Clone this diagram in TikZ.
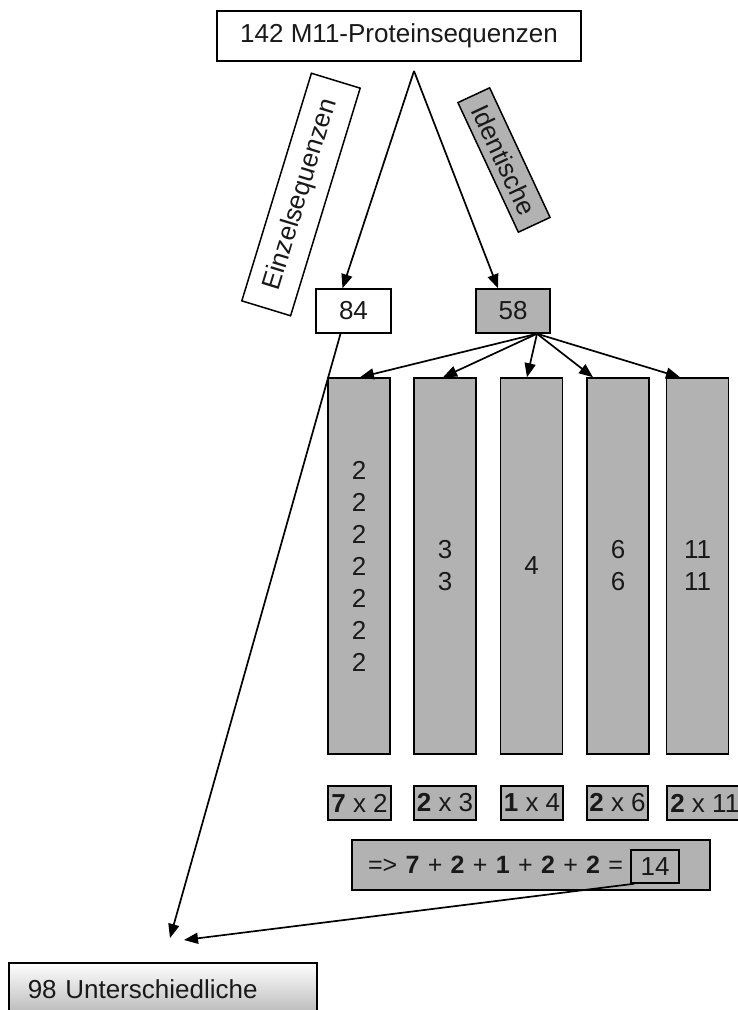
\documentclass[tikz,border=0pt]{standalone}
\usepackage{fontspec}
\setmainfont{Liberation Sans}
\usetikzlibrary{arrows.meta,calc}
\begin{document}
\begin{tikzpicture}[x=1pt,y=-1pt,
 box/.style={draw=black,line width=1.5pt,inner sep=0pt,font=\fontsize{26}{32}\selectfont,text=black!90},
 gbox/.style={box,fill=gray!60},
 col/.style={gbox,minimum width=62pt,minimum height=376pt,align=center},
 sbox/.style={gbox,minimum height=34pt},
 arr/.style={line width=1.7pt,-{Triangle[length=14pt,width=11pt]}}]
\useasboundingbox (0,0) rectangle (737,1010);
\fill[white] (0,0) rectangle (737,1010);
% top
\node[box,minimum width=364pt,minimum height=50pt] (top) at (399,36) {142 M11-Proteinsequenzen};
\coordinate (apex) at (414,71);
% rotated labels
\node[box,rotate=73,minimum width=238pt,minimum height=51pt,fill=white] (einz) at (301,194.5) {Einzelsequenzen};
\node[gbox,rotate=-65,minimum width=143pt,minimum height=35pt] (ident) at (504,160) {Identische};
% second row
\node[box,minimum width=75pt,minimum height=44pt] (n84) at (353.5,311) {84};
\node[gbox,minimum width=74pt,minimum height=44pt] (n58) at (513,311) {58};
\draw[arr] (apex) -- ([xshift=-11pt]n84.north);
\draw[arr] (apex) -- ([xshift=-15pt]n58.north);
% columns
\node[col] (c1) at (359,566) {2\\2\\2\\2\\2\\2\\2};
\node[col] (c2) at (445,566) {3\\3};
\node[col] (c3) at (531.5,566) {4};
\node[col] (c4) at (618,566) {6\\6};
\node[col] (c5) at (697.5,566) {11\\11};
\draw[arr] ([xshift=24pt]n58.south) -- ([xshift=1pt]c1.north);
\draw[arr] ([xshift=24pt]n58.south) -- ([xshift=-2pt]c2.north);
\draw[arr] ([xshift=24pt]n58.south) -- ([xshift=-4.5pt]c3.north);
\draw[arr] ([xshift=24pt]n58.south) -- ([xshift=-25pt]c4.north);
\draw[arr] ([xshift=24pt]n58.south) -- ([xshift=-17.5pt]c5.north);
% small boxes
\node[sbox,minimum width=63pt] (s1) at (359.5,803) {\textbf{7} x 2};
\node[sbox,minimum width=62pt] (s2) at (445,803) {\textbf{2} x 3};
\node[sbox,minimum width=62pt] (s3) at (532,803) {\textbf{1} x 4};
\node[sbox,minimum width=61pt] (s4) at (617.5,803) {\textbf{2} x 6};
\node[sbox,minimum width=76pt,anchor=west] (s5) at (666,803) {\textbf{2} x 11};
% formula
\node[gbox,minimum width=358pt,minimum height=50pt,align=left,text width=326pt,
  font=\fontsize{25}{30}\selectfont] (f) at (531,865)
  {=> \textbf{7} + \textbf{2} + \textbf{1} + \textbf{2} + \textbf{2} =};
\node[sbox,minimum width=48pt,minimum height=33pt] (n14) at (655,866.5) {14};
% bottom
\node[box,anchor=north west,minimum height=52pt,text width=270pt,inner xsep=19pt,align=left,
  top color=white,bottom color=gray!55] (n98) at (8,962) {98 Unterschiedliche};
\coordinate (e84) at (170,938);
\coordinate (e14) at (184,940);
\draw[arr] ([xshift=-13pt]n84.south) -- (e84);
\draw[arr] ([xshift=4pt]n14.south west) -- (e14);
\end{tikzpicture}
\end{document}
